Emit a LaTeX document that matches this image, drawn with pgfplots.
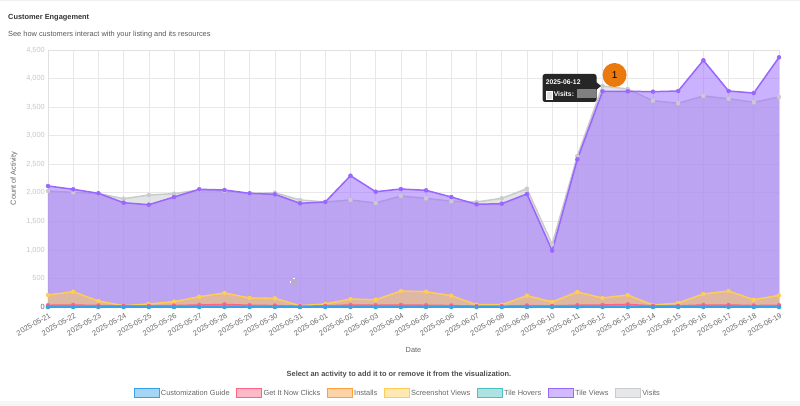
\documentclass[border=0pt]{standalone}
\usepackage{fontspec}
\setmainfont{Liberation Sans}
\usepackage{pgfplots}
\usepackage{pgfplotstable}
\pgfplotsset{compat=1.18}

% Chart.js-like palette
\definecolor{cBlue}{RGB}{54,162,235}
\definecolor{cRed}{RGB}{255,99,132}
\definecolor{cOrange}{RGB}{255,159,64}
\definecolor{cYellow}{RGB}{255,205,86}
\definecolor{cTeal}{RGB}{75,192,192}
\definecolor{cPurple}{RGB}{153,102,255}
\definecolor{cGray}{RGB}{201,203,207}
\definecolor{badge}{RGB}{234,122,14}
\definecolor{txt}{RGB}{102,102,102}

\newcommand{\chartfont}{\fontsize{7.4bp}{9bp}\selectfont}
\newcommand{\blurred}[1]{\textcolor{black!22}{#1}}

% daily activity counts, 2025-05-21 .. 2025-06-19
\pgfplotstableread{
idx visits views hovers shots installs clicks guide
0  2031 2119 0 210 10 30 0
1  2008 2061 0 268 15 35 0
2  1987 1991 0 105  5 25 0
3  1896 1826 0  23  5 20 0
4  1961 1791 0  53  5 20 0
5  1984 1926 0  93  8 25 0
6  2049 2061 0 180 12 35 0
7  2031 2049 0 245 15 45 0
8  1987 1991 0 158 10 30 0
9  2001 1973 0 152  8 25 0
10 1874 1816 0  23  5 15 0
11 1839 1839 0  53  5 20 0
12 1874 2299 0 140 10 35 0
13 1821 2019 0 128 10 30 0
14 1944 2066 0 280 15 35 0
15 1903 2043 0 268 12 30 0
16 1851 1926 0 198 10 25 0
17 1839 1798 0  40  5 15 0
18 1903 1809 0  40  5 15 0
19 2071 1979 0 198 10 25 0
20 1098  986 0  88  5 20 0
21 2644 2586 0 263 15 30 0
22 3870 3777 0 158 10 35 0
23 3817 3777 0 210 12 45 0
24 3612 3770 0  35  5 20 0
25 3567 3782 0  70  5 20 0
26 3695 4320 0 228 12 35 0
27 3647 3782 0 280 15 35 0
28 3584 3747 0 128  8 25 0
29 3677 4372 0 203 10 30 0
}\engagement

\pgfplotsset{
  area/.style={draw=none, fill=#1, fill opacity=0.5, forget plot},
  trace/.style={draw=#1, line width=1.5bp, mark=*, mark size=2bp,
    mark options={fill=#1, draw=#1, line width=0.4bp, solid},
    legend image code/.code={\draw[draw=#1, fill=#1, fill opacity=0.45, line width=1.1bp]
      (0bp,-4.5bp) rectangle (25bp,4.5bp);}},
}

\begin{document}
\begin{tikzpicture}
\useasboundingbox (-48bp,-99bp) rectangle (752bp,307bp);
\fill[white] (-48bp,-99bp) rectangle (752bp,307bp);
\fill[black!4] (-48bp,-99bp) rectangle (752bp,-94bp);
\draw[black!6, line width=0.8bp] (-48bp,306.6bp) -- (752bp,306.6bp);

\node[anchor=west, inner sep=0, font=\bfseries\chartfont, text=black!80] at (-40bp,289bp) {Customer Engagement};
\node[anchor=west, inner sep=0, font=\chartfont, text=black!65] at (-40bp,272bp) {See how customers interact with your listing and its resources};

\begin{axis}[
  width=731bp, height=257bp, scale only axis,
  xmin=0, xmax=29, ymin=0, ymax=4500,
  xtick={0,...,29},
  xticklabels={2025-05-21,2025-05-22,2025-05-23,2025-05-24,2025-05-25,2025-05-26,2025-05-27,2025-05-28,2025-05-29,2025-05-30,2025-05-31,2025-06-01,2025-06-02,2025-06-03,2025-06-04,2025-06-05,2025-06-06,2025-06-07,2025-06-08,2025-06-09,2025-06-10,2025-06-11,2025-06-12,2025-06-13,2025-06-14,2025-06-15,2025-06-16,2025-06-17,2025-06-18,2025-06-19},
  ytick={0,500,...,4500},
  yticklabels={0,\blurred{500},\blurred{1,000},\blurred{1,500},\blurred{2,000},\blurred{2,500},\blurred{3,000},\blurred{3,500},\blurred{4,000},\blurred{4,500}},
  grid=major,
  major grid style={draw=black!9, line width=0.6bp},
  axis line style={draw=black!12, line width=0.6bp},
  tick style={draw=none},
  xticklabel style={rotate=30, anchor=north east, font=\chartfont, text=txt, inner sep=1bp, yshift=-4bp, xshift=-1bp},
  yticklabel style={font=\chartfont, text=txt, inner sep=1bp, xshift=-2bp},
  xlabel={Date}, ylabel={Count of Activity},
  label style={font=\chartfont, text=txt},
  xlabel style={at={(axis description cs:0.5,-0.167)}, anchor=center},
  ylabel style={at={(axis description cs:-0.0465,0.5)}, anchor=center},
  reverse legend,
  legend columns=7,
  legend style={at={(axis description cs:0.478,-0.335)}, anchor=center,
    draw=none, fill=none, font=\chartfont, text=txt,
    nodes={inner sep=1.3bp},
    /tikz/every even column/.append style={column sep=5.2bp}},
]
% drawn back to front: Visits lowest, Customization Guide on top
\addplot[area=cGray] table[x=idx,y=visits]{\engagement} \closedcycle;
\addplot[trace=cGray] table[x=idx,y=visits]{\engagement};
\addlegendentry{Visits}
\addplot[area=cPurple] table[x=idx,y=views]{\engagement} \closedcycle;
\addplot[trace=cPurple] table[x=idx,y=views]{\engagement};
\addlegendentry{Tile Views}
\addplot[area=cTeal] table[x=idx,y=hovers]{\engagement} \closedcycle;
\addplot[trace=cTeal] table[x=idx,y=hovers]{\engagement};
\addlegendentry{Tile Hovers}
\addplot[area=cYellow] table[x=idx,y=shots]{\engagement} \closedcycle;
\addplot[trace=cYellow] table[x=idx,y=shots]{\engagement};
\addlegendentry{Screenshot Views}
\addplot[area=cOrange] table[x=idx,y=installs]{\engagement} \closedcycle;
\addplot[trace=cOrange] table[x=idx,y=installs]{\engagement};
\addlegendentry{Installs}
\addplot[area=cRed] table[x=idx,y=clicks]{\engagement} \closedcycle;
\addplot[trace=cRed] table[x=idx,y=clicks]{\engagement};
\addlegendentry{Get It Now Clicks}
\addplot[area=cBlue] table[x=idx,y=guide]{\engagement} \closedcycle;
\addplot[trace=cBlue] table[x=idx,y=guide]{\engagement};
\addlegendentry{Customization Guide}

\coordinate (tip) at (axis cs:22,3870);
\coordinate (cursor) at (axis cs:9.76,437);
\end{axis}

% hover tooltip on the Visits point of 2025-06-12
\fill[black!85, rounded corners=2.5bp] ([shift={(-60bp,-16bp)}]tip) rectangle ([shift={(-6bp,12bp)}]tip);
\fill[black!85] ([shift={(-6.5bp,-4bp)}]tip) -- ([shift={(-1.5bp,0bp)}]tip) -- ([shift={(-6.5bp,4bp)}]tip) -- cycle;
\node[anchor=west, inner sep=0, text=white, font=\bfseries\fontsize{6.8bp}{8bp}\selectfont] at ([shift={(-57bp,3.7bp)}]tip) {2025-06-12};
\filldraw[fill=cGray!60, draw=white, line width=0.6bp] ([shift={(-56bp,-13bp)}]tip) rectangle ([shift={(-50bp,-5bp)}]tip);
\node[anchor=west, inner sep=0, text=white, font=\bfseries\fontsize{6.8bp}{8bp}\selectfont] at ([shift={(-49bp,-8.5bp)}]tip) {Visits:};
\fill[black!50] ([shift={(-26bp,-12bp)}]tip) rectangle ([shift={(-7bp,-3bp)}]tip);
\node[circle, fill=badge, minimum size=24bp, inner sep=0, font=\fontsize{10bp}{12bp}\selectfont] at ([shift={(12bp,11bp)}]tip) {1};

% mouse cursor
\draw[white, line width=2.4bp] ([shift={(-4bp,0)}]cursor) -- ([shift={(4bp,0)}]cursor) ([shift={(0,-4bp)}]cursor) -- ([shift={(0,4bp)}]cursor);
\draw[black!30, line width=1.2bp] ([shift={(-3.5bp,0)}]cursor) -- ([shift={(3.5bp,0)}]cursor) ([shift={(0,-3.5bp)}]cursor) -- ([shift={(0,3.5bp)}]cursor);

\node[font=\bfseries\chartfont, text=black!70] at (351bp,-68bp) {Select an activity to add it to or remove it from the visualization.};
\end{tikzpicture}
\end{document}
